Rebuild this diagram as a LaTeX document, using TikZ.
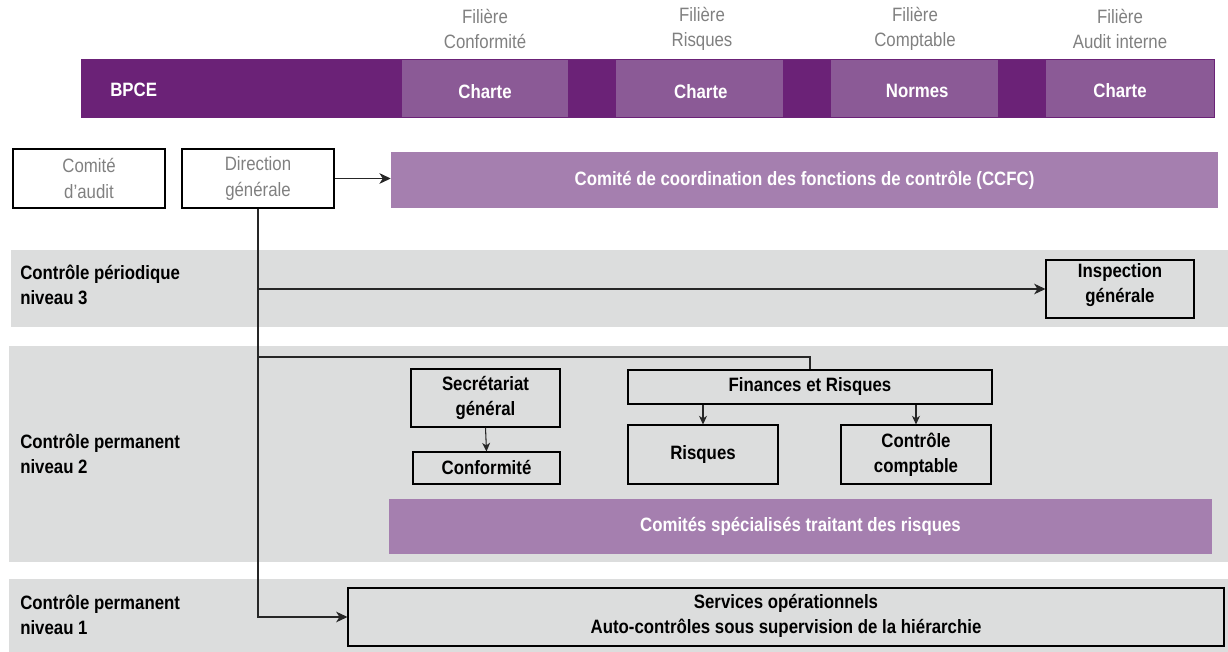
\documentclass[tikz,border=0pt]{standalone}
\usepackage{fontspec}
\setmainfont{Liberation Sans}[FakeStretch=0.87]
\usetikzlibrary{arrows.meta,fit}
\definecolor{dkp}{RGB}{107,34,119}
\definecolor{mdp}{RGB}{139,90,150}
\definecolor{ltp}{RGB}{165,127,175}
\definecolor{band}{RGB}{220,221,221}
\definecolor{gtxt}{RGB}{128,128,128}
\begin{document}
\begin{tikzpicture}[x=0.75pt,y=-0.75pt,
  every node/.style={font=\fontsize{14.5}{19}\selectfont, align=center, inner sep=0pt},
  bold/.style={font=\fontsize{14.5}{19}\selectfont\bfseries},
  box/.style={draw=black, line width=0.8pt},
  btxt/.style={bold},
  gtx/.style={text=gtxt},
  pbox/.style={fill=ltp},
  ptxt/.style={text=white, bold},
  seg/.style={fill=mdp},
  bandbox/.style={fill=band},
  hdr/.style={text=gtxt},
  lbl/.style={bold, align=left, anchor=west},
  conn/.style={line width=0.8pt, draw=black!85},
  arr/.style={conn, -{Stealth[length=8.5pt,width=8pt,inset=2.5pt]}},
  sarr/.style={conn, -{Stealth[length=6.5pt,width=6pt,inset=2pt]}}
]
\useasboundingbox (0,0) rectangle (1228,652);

% header labels
\node[hdr] (h1) at (485,29) {Filière\\Conformité};
\node[hdr] (h2) at (702,29) {Filière\\Risques};
\node[hdr] (h3) at (915,29) {Filière\\Comptable};
\node[hdr] (h4) at (1120,29) {Filière\\Audit interne};

% top bar
\node[fill=dkp, fit={(82,60)(1214,117)}] (bar) {};
\node[seg, fit={(402,60)(568,117)}] (s1) {};
\node[seg, fit={(616,60)(783,117)}] (s2) {};
\node[seg, fit={(831,60)(998,117)}] (s3) {};
\node[seg, fit={(1046,60)(1214,117)}] (s4) {};
\draw[dkp, line width=0.6pt] (bar.south west) rectangle (bar.north east);
\node[ptxt] (s1t) at ([yshift=-2]s1.center) {Charte};
\node[ptxt] (s2t) at ([yshift=-2,xshift=1]s2.center) {Charte};
\node[ptxt] (s3t) at ([yshift=-2,xshift=2]s3.center) {Normes};
\node[ptxt] (s4t) at (1120,91) {Charte};
\node[ptxt, anchor=west] (bpce) at (110,90) {BPCE};

% bands
\node[bandbox, fit={(11,250)(1228,327)}] (b3) {};
\node[bandbox, fit={(9,346)(1228,562)}] (b2) {};
\node[bandbox, fit={(9,579)(1228,652)}] (b1) {};
\node[lbl] (l3) at (20,285) {Contrôle périodique\\niveau 3};
\node[lbl] (l2) at (20,454) {Contrôle permanent\\niveau 2};
\node[lbl] (l1) at (20,615) {Contrôle permanent\\niveau 1};

% top boxes
\node[box, fit={(13,149)(165,208)}] (ca) {};
\node[gtx] (cat) at (ca.center) {Comité\\d'audit};
\node[box, fit={(182,149)(334,208)}] (dg) {};
\node[gtx] (dgt) at (dg.center) {Direction\\générale};
\node[pbox, fit={(391,152)(1218,208)}] (ccfc) {};
\node[ptxt] (ccfct) at (ccfc.center) {Comité de coordination des fonctions de contrôle (CCFC)};

% level 3
\node[box, fit={(1046,260)(1194,318)}] (insp) {};
\node[btxt] (inspt) at ([yshift=3]insp.center) {Inspection\\générale};

% level 2
\node[box, fit={(411,369)(560,427)}] (sg) {};
\node[btxt] (sgt) at (sg.center) {Secrétariat\\général};
\node[box, fit={(413,452)(560,484)}] (conf) {};
\node[btxt] (conft) at (conf.center) {Conformité};
\node[box, fit={(628,370)(992,404)}] (fin) {};
\node[btxt] (fint) at (fin.center) {Finances et Risques};
\node[box, fit={(628,425)(778,484)}] (risq) {};
\node[btxt] (risqt) at (risq.center) {Risques};
\node[box, fit={(841,425)(991,484)}] (cc) {};
\node[btxt] (cct) at (cc.center) {Contrôle\\comptable};
\node[pbox, fit={(389,499)(1212,554)}] (csp) {};
\node[ptxt] (cspt) at (csp.center) {Comités spécialisés traitant des risques};

% level 1
\node[box, fit={(348,588)(1224,646)}] (svc) {};
\node[btxt] (svct) at ([yshift=1]svc.center) {Services opérationnels\\Auto-contrôles sous supervision de la hiérarchie};

% connectors
\coordinate (j) at (258,357);
\draw[arr] (dg.east) -- (ccfc.west |- dg.east);
\draw[arr] (dg.south) -- (dg.south |- svc.west) -- (svc.west);
\draw[arr] (dg.south |- insp.west) -- (insp.west);
\draw[conn] (dg.south |- j) -- (fin.north |- j) -- (fin.north);
\draw[sarr] (sg.south) -- (conf.north);
\draw[sarr] (risq.north |- fin.south) -- (risq.north);
\draw[sarr] (cc.north |- fin.south) -- (cc.north);
\end{tikzpicture}
\end{document}
